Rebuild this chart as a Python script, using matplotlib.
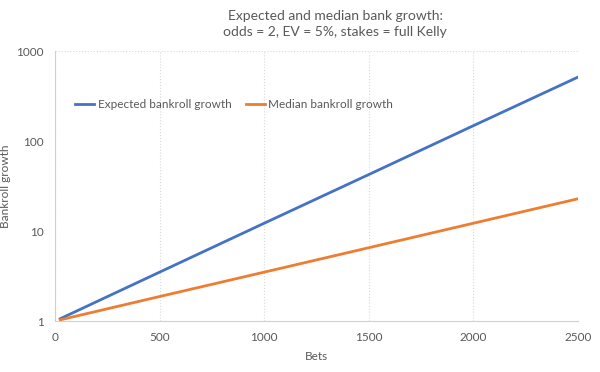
import matplotlib
matplotlib.use("Agg")
import matplotlib.pyplot as plt
from matplotlib.ticker import FixedLocator, FixedFormatter, NullLocator

# values (straight lines on a log axis)
bets = [25, 500, 1000, 1500, 2000, 2500]
expected_growth = [1.06, 3.49, 12.2, 42.4, 148, 513]
median_growth = [1.03, 1.87, 3.49, 6.52, 12.2, 22.8]

y_ticks = [1, 10, 100, 1000]
y_labels = ["1", "10", "100", "1000"]
x_ticks = [0, 500, 1000, 1500, 2000, 2500]

plt.rcParams['font.family'] = ['Lato', 'DejaVu Sans']
grey = '#595959'

fig = plt.figure(figsize=(6, 3.72), dpi=100)
ax = fig.add_axes([55 / 600, 1 - 321 / 372, 523 / 600, 270 / 372])

ax.plot(bets, expected_growth, color='#4472C4', lw=2, label='Expected bankroll growth')
ax.plot(bets, median_growth, color='#ED7D31', lw=2, label='Median bankroll growth')

ax.set_yscale('log')
ax.set_ylim(1, 1000)
ax.set_xlim(0, 2500)
ax.yaxis.set_major_locator(FixedLocator(y_ticks))
ax.yaxis.set_major_formatter(FixedFormatter(y_labels))
ax.yaxis.set_minor_locator(NullLocator())
ax.set_xticks(x_ticks)

ax.grid(axis='x', color='#d9d9d9', ls=':', lw=0.8)
ax.axhline(1000, color='#d9d9d9', ls=':', lw=0.8)
for s in ['top', 'right']:
    ax.spines[s].set_visible(False)
for s in ['left', 'bottom']:
    ax.spines[s].set_color('#d0d0d0')
ax.tick_params(length=0, colors=grey, labelsize=8.5, pad=8)

ax.set_xlabel('Bets', color=grey, fontsize=8.5, labelpad=6)
ax.set_ylabel('Bankroll growth', color=grey, fontsize=8.5)
ax.yaxis.set_label_coords(-44 / 523, 0.5)

fig.text(335 / 600, 1 - 24 / 372,
         'Expected and median bank growth:\nodds = 2, EV = 5%, stakes = full Kelly',
         ha='center', va='center', color=grey, fontsize=10, linespacing=1.4)

leg = ax.legend(loc='upper left', bbox_to_anchor=(0.03, 0.84), ncol=2, frameon=False,
                fontsize=8.5, handlelength=1.6, handletextpad=0.3, columnspacing=1.2,
                borderaxespad=0)
for t in leg.get_texts():
    t.set_color(grey)

fig.savefig('out.png', dpi=100)
